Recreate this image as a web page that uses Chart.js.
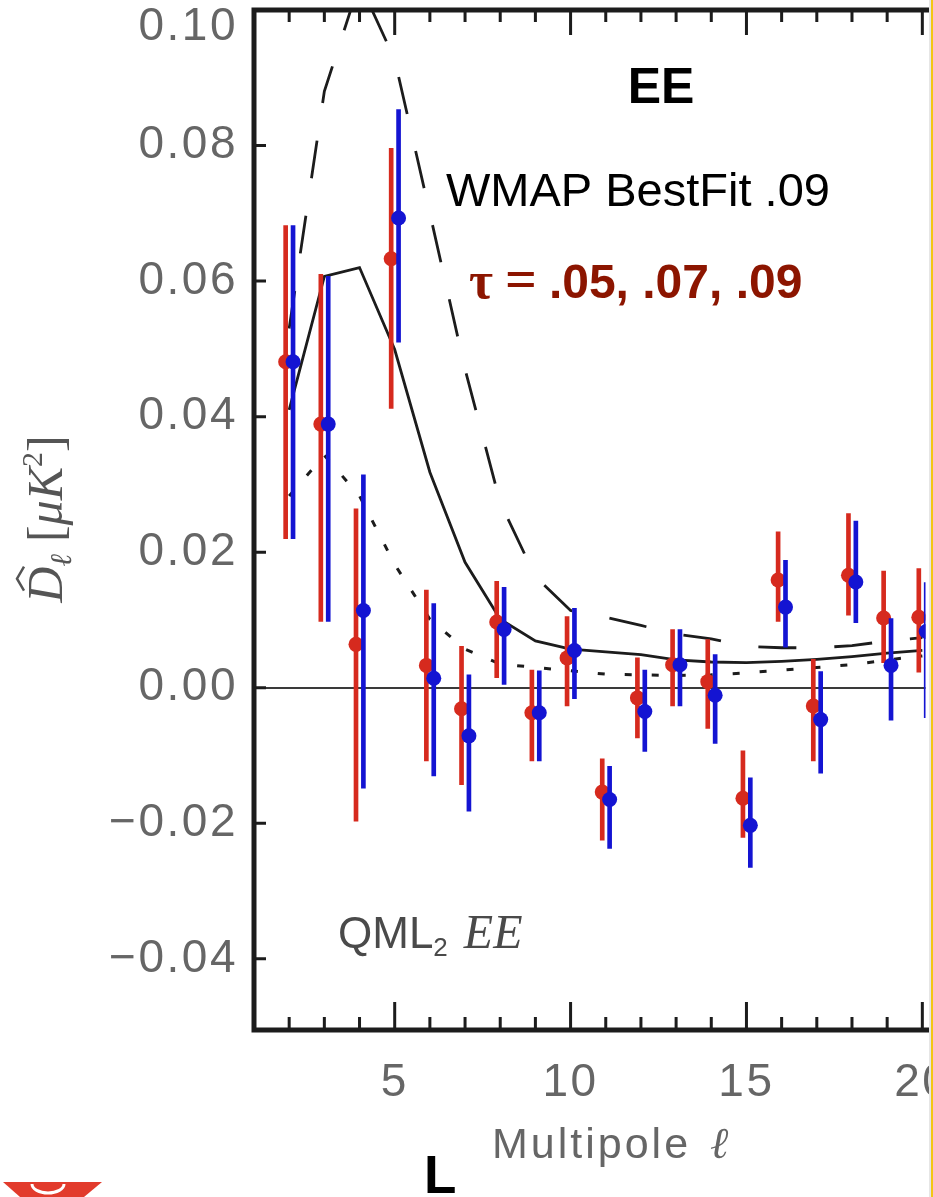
<!DOCTYPE html>
<html>
<head>
<meta charset="utf-8">
<script src="https://cdn.jsdelivr.net/npm/chart.js@4.4.1/dist/chart.umd.min.js"></script>
<style>
  html, body { margin: 0; padding: 0; background: #fff; overflow: hidden; }
  canvas { display: block; }
</style>
</head>
<body>
<canvas id="eeChart" width="933" height="1197"></canvas>
<script>
// multipoles
const ells = [2, 3, 4, 5, 6, 7, 8, 9, 10, 11, 12, 13, 14, 15, 16, 17, 18, 19, 20];

// red estimates (points + error bar ends)
const redVal = [0.0481, 0.0389, 0.0064, 0.0633, 0.0033, -0.0031, 0.0097, -0.0037, 0.0044, -0.0154,
                -0.0015, 0.0034, 0.0009, -0.0163, 0.0159, -0.0027, 0.0166, 0.0103, 0.0104];
const redLo  = [0.0220, 0.0098, -0.0197, 0.0412, -0.0108, -0.0143, 0.0015, -0.0108, -0.0027, -0.0225,
                -0.0074, -0.0027, -0.0060, -0.0221, 0.0098, -0.0108, 0.0107, 0.0037, 0.0023];
const redHi  = [0.0682, 0.0610, 0.0264, 0.0796, 0.0144, 0.0061, 0.0157, 0.0026, 0.0105, -0.0105,
                0.0044, 0.0086, 0.0071, -0.0093, 0.0230, 0.0042, 0.0257, 0.0172, 0.0176];

// blue estimates
const blueVal = [0.0481, 0.0389, 0.0114, 0.0693, 0.0014, -0.0071, 0.0086, -0.0037, 0.0055, -0.0165,
                 -0.0035, 0.0034, -0.0011, -0.0203, 0.0119, -0.0047, 0.0156, 0.0033, 0.0083];
const blueLo  = [0.0220, 0.0098, -0.0148, 0.0510, -0.0130, -0.0182, 0.0005, -0.0108, -0.0016, -0.0237,
                 -0.0094, -0.0027, -0.0082, -0.0265, 0.0060, -0.0126, 0.0096, -0.0048, -0.0044];
const blueHi  = [0.0682, 0.0607, 0.0314, 0.0853, 0.0124, 0.0019, 0.0148, 0.0025, 0.0117, -0.0116,
                 0.0026, 0.0086, 0.0049, -0.0133, 0.0188, 0.0024, 0.0246, 0.0102, 0.0155];

// model curves, tau = .05 / .07 / .09
const tau05 = [0.0283, 0.0343, 0.0283, 0.0182, 0.0101, 0.0057, 0.0035, 0.0030, 0.0025, 0.0020,
               0.0019, 0.0018, 0.0019, 0.0022, 0.0026, 0.0030, 0.0034, 0.0041, 0.0047];
const tau07 = [0.0410, 0.0607, 0.0620, 0.0499, 0.0318, 0.0185, 0.0101, 0.0069, 0.0057, 0.0053,
               0.0049, 0.0041, 0.0038, 0.0037, 0.0039, 0.0042, 0.0046, 0.0051, 0.0055];
const tau09 = [0.0530, 0.0880, 0.1040, 0.0927, 0.0700, 0.0470, 0.0273, 0.0164, 0.0114, 0.0104,
               0.0092, 0.0079, 0.0072, 0.0061, 0.0059, 0.0059, 0.0062, 0.0069, 0.0074];

// axes
const xTicks = [1, 2, 3, 4, 5, 6, 7, 8, 9, 10, 11, 12, 13, 14, 15, 16, 17, 18, 19, 20];
const xLabels = [5, 10, 15, 20];
const yTicks = [-0.04, -0.02, 0, 0.02, 0.04, 0.06, 0.08, 0.10];

const RED = '#d62a1e';
const BLUE = '#1414d2';
const GREY = '#666';

const pts = (ys, dx) => ys.map((v, i) => ({ x: ells[i] + dx, y: v }));
const bars = (lo, hi, dx) => lo.map((v, i) => ({ x: ells[i] + dx, y: [v, hi[i]] }));

// draw a list of text runs one after another
function runs(ctx, parts, x, y) {
    let cx = x;
    parts.forEach(p => {
        ctx.font = p.font;
        ctx.fillText(p.t, cx, y + (p.dy || 0));
        cx += ctx.measureText(p.t).width + (p.gap || 0);
    });
    return cx;
}
function runsWidth(ctx, parts) {
    let w = 0;
    parts.forEach(p => { ctx.font = p.font; w += ctx.measureText(p.t).width + (p.gap || 0); });
    return w;
}

const decor = {
    id: 'decor',
    afterDraw(chart) {
        const { ctx, chartArea: a, scales: { x, y } } = chart;
        ctx.save();

        // frame (right side is cut off in the original)
        ctx.strokeStyle = '#1c1c1c';
        ctx.lineWidth = 5;
        ctx.beginPath();
        ctx.moveTo(a.right + 5, a.top);
        ctx.lineTo(a.left, a.top);
        ctx.lineTo(a.left, a.bottom);
        ctx.lineTo(a.right + 5, a.bottom);
        ctx.stroke();

        // inward tick marks
        ctx.lineWidth = 3;
        ctx.beginPath();
        x.ticks.forEach(t => {
            const px = x.getPixelForValue(t.value);
            const major = t.value % 5 === 0;
            ctx.moveTo(px, a.top);
            ctx.lineTo(px, a.top + (major ? 25 : 12));
            ctx.moveTo(px, a.bottom);
            ctx.lineTo(px, a.bottom - (major ? 28 : 13));
        });
        y.ticks.forEach(t => {
            const py = y.getPixelForValue(t.value);
            ctx.moveTo(a.left, py);
            ctx.lineTo(a.left + 12, py);
        });
        ctx.stroke();

        // tick labels
        ctx.fillStyle = GREY;
        ctx.letterSpacing = '2.5px';
        ctx.font = '46px "Liberation Sans", Arial, sans-serif';
        ctx.textAlign = 'right';
        ctx.textBaseline = 'middle';
        yTicks.forEach(v => {
            const txt = (v < 0 ? '\u2212' : '') + Math.abs(v).toFixed(2);
            const py = Math.max(y.getPixelForValue(v), a.top + 17);
            ctx.fillText(txt, 238, py);
        });
        ctx.textAlign = 'center';
        xLabels.forEach(v => {
            ctx.fillText(String(v), x.getPixelForValue(v), 1083);
        });

        // x title
        ctx.textAlign = 'left';
        ctx.textBaseline = 'alphabetic';
        ctx.letterSpacing = '3px';
        const mx = runs(ctx, [{ t: 'Multipole ', font: '43px "Liberation Sans", Arial, sans-serif' }], 492, 1158);
        ctx.letterSpacing = '0px';
        runs(ctx, [{ t: '\u2113', font: 'italic 44px "DejaVu Serif", serif' }], mx + 4, 1158);

        // y title, rotated
        ctx.save();
        ctx.translate(62, 519);
        ctx.rotate(-Math.PI / 2);
        ctx.fillStyle = '#555';
        const yt = [
            { t: 'D', font: 'italic 50px "Liberation Serif", serif' },
            { t: '\u2113', font: 'italic 30px "DejaVu Serif", serif', dy: 9, gap: 12 },
            { t: '[', font: '50px "Liberation Serif", serif' },
            { t: '\u03bcK', font: 'italic 50px "Liberation Serif", serif' },
            { t: '2', font: '30px "Liberation Serif", serif', dy: -20 },
            { t: ']', font: '50px "Liberation Serif", serif' }
        ];
        const x0 = -runsWidth(ctx, yt) / 2;
        runs(ctx, yt, x0, 0);
        ctx.strokeStyle = '#555';
        ctx.lineWidth = 2.5;
        ctx.beginPath();
        ctx.moveTo(x0 + 12, -38);
        ctx.lineTo(x0 + 24, -45);
        ctx.lineTo(x0 + 36, -38);
        ctx.stroke();
        ctx.restore();

        // panel label
        ctx.fillStyle = '#4a4a4a';
        const qx = runs(ctx, [
            { t: 'QML', font: '44px "Liberation Sans", Arial, sans-serif' },
            { t: '2', font: '26px "Liberation Sans", Arial, sans-serif', dy: 8, gap: 16 }
        ], 338, 948);
        runs(ctx, [{ t: 'EE', font: 'italic 48px "Liberation Serif", serif' }], qx, 948);

        // annotations
        ctx.fillStyle = '#000';
        ctx.textAlign = 'center';
        ctx.font = 'bold 50px "Liberation Sans", Arial, sans-serif';
        ctx.fillText('EE', 661, 103);
        ctx.textAlign = 'left';
        ctx.font = '47px "Liberation Sans", Arial, sans-serif';
        ctx.fillText('WMAP BestFit .09', 446, 206);
        ctx.fillStyle = '#8c1500';
        runs(ctx, [
            { t: '\u03c4', font: 'bold 52px "Liberation Serif", serif', gap: 12 },
            { t: '=', font: 'bold 56px "Liberation Serif", serif', gap: 12 },
            { t: '.05, .07, .09', font: 'bold 48px "Liberation Sans", Arial, sans-serif' }
        ], 469, 298);

        ctx.fillStyle = '#000';
        ctx.font = 'bold 53px "Liberation Sans", Arial, sans-serif';
        ctx.fillText('L', 424, 1193);

        // bits of the slide around the figure
        ctx.fillStyle = '#e23b2c';
        ctx.beginPath();
        ctx.moveTo(3, 1182);
        ctx.lineTo(102, 1182);
        ctx.lineTo(84, 1197);
        ctx.lineTo(20, 1197);
        ctx.closePath();
        ctx.fill();
        ctx.strokeStyle = '#fff';
        ctx.lineWidth = 3;
        ctx.beginPath();
        ctx.ellipse(48, 1184, 16, 9, 0, 0, Math.PI);
        ctx.stroke();

        ctx.fillStyle = '#e6e6e6';
        ctx.fillRect(929, 0, 2, 1197);
        ctx.fillStyle = '#f3c614';
        ctx.fillRect(931, 0, 2, 1197);
        ctx.restore();
    }
};

new Chart(document.getElementById('eeChart'), {
    type: 'scatter',
    data: {
        datasets: [
            {
                type: 'line', label: 'tau .09', data: pts(tau09, 0),
                borderColor: '#1c1c1c', borderWidth: 2.8, borderDash: [38, 38],
                pointRadius: 0, tension: 0, fill: false, order: 10
            },
            {
                type: 'line', label: 'tau .07', data: pts(tau07, 0),
                borderColor: '#1c1c1c', borderWidth: 2.8,
                pointRadius: 0, tension: 0, fill: false, order: 9
            },
            {
                type: 'line', label: 'tau .05', data: pts(tau05, 0),
                borderColor: '#1c1c1c', borderWidth: 3, borderDash: [7, 20],
                pointRadius: 0, tension: 0, fill: false, order: 8
            },
            {
                type: 'bar', label: 'red err', data: bars(redLo, redHi, -0.1),
                backgroundColor: RED, barThickness: 4, grouped: false, order: 4
            },
            {
                type: 'scatter', label: 'red', data: pts(redVal, -0.1),
                backgroundColor: RED, borderWidth: 0, pointRadius: 7.5, order: 3
            },
            {
                type: 'bar', label: 'blue err', data: bars(blueLo, blueHi, 0.11),
                backgroundColor: BLUE, barThickness: 4, grouped: false, order: 2
            },
            {
                type: 'scatter', label: 'blue', data: pts(blueVal, 0.11),
                backgroundColor: BLUE, borderWidth: 0, pointRadius: 7.5, order: 1
            }
        ]
    },
    options: {
        responsive: false,
        animation: false,
        events: [],
        layout: { padding: { top: 10, right: 2, left: 0, bottom: 0 } },
        plugins: { legend: { display: false }, tooltip: { enabled: false } },
        scales: {
            x: {
                type: 'linear', position: 'bottom', min: 1, max: 20.09, offset: false,
                grid: { display: false }, border: { display: false }, ticks: { display: false },
                afterBuildTicks: s => { s.ticks = xTicks.map(v => ({ value: v })); },
                afterFit: s => { s.height = 167; }
            },
            y: {
                type: 'linear', position: 'left', min: -0.0505, max: 0.1,
                grid: {
                    color: c => (c.tick && c.tick.value === 0 ? '#3a3a3a' : 'rgba(0,0,0,0)'),
                    lineWidth: 2, drawTicks: false
                },
                border: { display: false }, ticks: { display: false },
                afterBuildTicks: s => { s.ticks = yTicks.map(v => ({ value: v })); },
                afterFit: s => { s.width = 254; }
            }
        }
    },
    plugins: [decor]
});
</script>
</body>
</html>
